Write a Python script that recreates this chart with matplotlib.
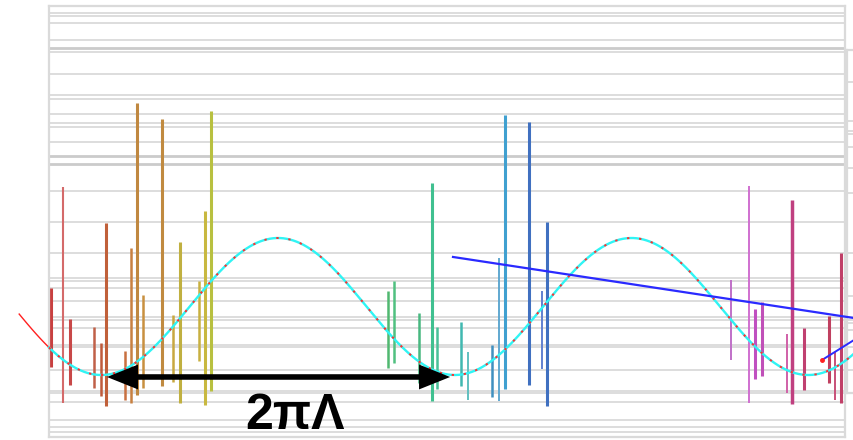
import numpy as np
import matplotlib
matplotlib.use("Agg")
import matplotlib.pyplot as plt

# ---- data -------------------------------------------------------------
# horizontal reference levels of the main panel
levels = [4.285, 4.241, 4.139, 3.891, 3.781, 3.715, 3.394, 3.088, 3.029,
          2.810, 2.679, 2.620, 2.401, 2.197, 2.080, 1.686, 1.234, 0.781,
          0.416, 0.372, 0.270, 0.080, -0.153, -0.197, -0.314, -0.562,
          -0.591, -0.927, -1.234, -1.263, -1.394, -1.657, -1.759, -1.832]
strong_levels = [3.781, 2.197, 2.080]

# reference levels of the neighbouring panel
side_levels = [3.277, 2.708, 2.562, 2.518, 2.328, 2.022, 1.657, 0.781,
               0.153, -0.153, -0.197, -0.241, -0.343, -0.591, -0.927]

# vertical intervals: position, lower end, upper end, line width (pt)
bar_x = [0.036, 0.249, 0.373, 0.800, 0.924, 1.013, 1.351, 1.458, 1.564,
         1.671, 2.009, 2.204, 2.329, 2.666, 2.773, 2.880,
         6.026, 6.132, 6.577, 6.808, 6.897, 7.323, 7.448,
         7.874, 7.999, 8.105, 8.532, 8.763, 8.852,
         12.122, 12.442, 12.549, 12.673, 13.118, 13.207, 13.420,
         13.864, 13.971, 14.077]
bar_lo = [-0.883, -1.409, -1.146, -1.190, -1.307, -1.453, -1.365, -1.409,
          -1.292, -1.190, -1.161, -1.102, -1.409, -0.796, -1.438, -1.234,
          -0.898, -0.825, -1.117, -1.380, -1.204, -1.161, -1.365,
          -1.321, -1.380, -1.204, -1.146, -0.912, -1.453,
          -0.781, -1.409, -1.058, -1.015, -1.263, -1.423, -1.219,
          -1.117, -1.365, -1.409]
bar_hi = [0.270, 1.745, -0.182, -0.299, -0.533, 1.219, -0.650, 0.854,
          2.971, 0.168, 2.737, -0.124, 0.942, 0.372, 1.394, 2.854,
          0.226, 0.372, -0.095, 1.803, -0.299, -0.226, -0.664,
          -0.562, 0.708, 2.796, 2.693, 0.226, 1.234,
          0.387, 1.759, -0.036, 0.066, -0.401, 1.555, -0.314,
          -0.139, -0.664, 0.781]
bar_w = [2.2, 1.5, 2.2, 1.8, 1.8, 2.2, 1.8, 1.8, 2.2, 1.8, 2.2, 1.8,
         2.2, 1.8, 2.2, 2.2,
         1.8, 1.8, 1.8, 2.2, 1.8, 1.8, 1.4,
         1.8, 1.4, 2.2, 2.2, 1.4, 2.2,
         1.4, 1.4, 2.2, 2.2, 1.4, 2.5, 2.2, 2.2, 1.4, 2.2]
bar_colors = ["#c84040", "#d46a6a", "#c84848", "#c06048", "#c05a3a",
              "#c0603a", "#c87040", "#c88040", "#c08840", "#c89040",
              "#c08a40", "#c8a840", "#c0b040", "#c8b040", "#c8b840",
              "#b8c040",
              "#50b870", "#50c080", "#48b880", "#40c090", "#48c098",
              "#40b8b0", "#60c0c0",
              "#4090c0", "#60a8d0", "#40a0d0", "#4070c0", "#6080d0",
              "#4070c0",
              "#c070c8", "#d070d0", "#c050c0", "#c050b8", "#d060a8",
              "#c04080", "#c04070", "#c04060", "#c85078", "#c04068"]

# periodic model curve: unit amplitude, period 2*pi (in units of Lambda)
wave_phase = 0.93
wave_start_red = -0.53
wave_start = 0.0
wave_end = 14.31

# straight trend segments
trend_x = [7.181, 14.309]
trend_y = [0.723, -0.168]
trend2_x = [13.740, 14.309]
trend2_y = [-0.781, -0.489]

# arrow marking one period
arrow_x = [1.03, 7.13]
arrow_y = -1.029
arrow_label = "2πΛ"
label_pos = (4.37, -1.60)

# ---- figure -----------------------------------------------------------
W, H = 854, 440
fig = plt.figure(figsize=(W / 100, H / 100), dpi=100)
fig.patch.set_facecolor("white")

grid_c = "#dadada"
grid_c2 = "#cbcbcb"

# neighbouring panel (partly outside the canvas), drawn underneath
ax2 = fig.add_axes([847 / W, 47 / H, 0.3, 343 / H])
ax2.set_zorder(0)
ax2.patch.set_visible(False)
ax2.set_xlim(0, 1)
ax2.set_ylim((306.5 - 393) / 68.5, (306.5 - 50) / 68.5)
ax2.set_xticks([])
ax2.set_yticks([])
for s in ax2.spines.values():
    s.set_color(grid_c)
    s.set_linewidth(1.6)
for lv in side_levels:
    ax2.axhline(lv, color=grid_c, lw=1.3, zorder=1)

ax = fig.add_axes([49 / W, 3 / H, 796 / W, 431.3 / H])
ax.set_zorder(1)
ax.set_xlim(0, 796 / 56.26)
ax.set_ylim(-(437 - 306.5) / 68.5, (306.5 - 5.7) / 68.5)
ax.set_xticks([])
ax.set_yticks([])
for s in ax.spines.values():
    s.set_color(grid_c)
    s.set_linewidth(1.6)

for lv in levels:
    strong = lv in strong_levels
    ax.axhline(lv, color=grid_c2 if strong else grid_c,
               lw=2.0 if strong else 1.3, zorder=1)

# vertical intervals
ax.vlines(bar_x, bar_lo, bar_hi, colors=bar_colors, linewidths=bar_w,
          zorder=2)

# model curve: red trace at the start, cyan line, red dots on top
xr = np.linspace(wave_start_red, wave_start + 0.02, 100)
ax.plot(xr, -np.cos(xr - wave_phase), color="#ff2020", lw=1.0,
        clip_on=False, zorder=3)
xc = np.linspace(wave_start, wave_end, 1200)
ax.plot(xc, -np.cos(xc - wave_phase), color="#30f4f4", lw=1.7,
        clip_on=False, zorder=4)
ax.plot(xc, -np.cos(xc - wave_phase), color="#ff3030", lw=1.4,
        dashes=(1.2, 5), clip_on=False, zorder=5)

# trend segments
ax.plot(trend_x, trend_y, color="#2a2aff", lw=1.6, clip_on=False, zorder=6)
ax.plot(trend2_x, trend2_y, color="#2a2aff", lw=1.4, clip_on=False, zorder=6)
ax.plot(trend2_x[0], trend2_y[0], "o", color="#ff2020", ms=2.5,
        clip_on=False, zorder=7)

# double-headed arrow and label
ax.annotate("", xy=(arrow_x[1], arrow_y), xytext=(arrow_x[0], arrow_y),
            arrowprops=dict(arrowstyle="<|-|>,head_length=0.75,head_width=0.3",
                            color="black", lw=4, mutation_scale=20,
                            joinstyle="miter", capstyle="butt",
                            shrinkA=0, shrinkB=0),
            zorder=8)
ax.text(label_pos[0], label_pos[1], arrow_label, ha="center", va="center",
        fontsize=36, fontweight="bold",
        family=["Liberation Sans", "DejaVu Sans"], color="black", zorder=8)

fig.savefig("out.png", dpi=100, facecolor="white")
